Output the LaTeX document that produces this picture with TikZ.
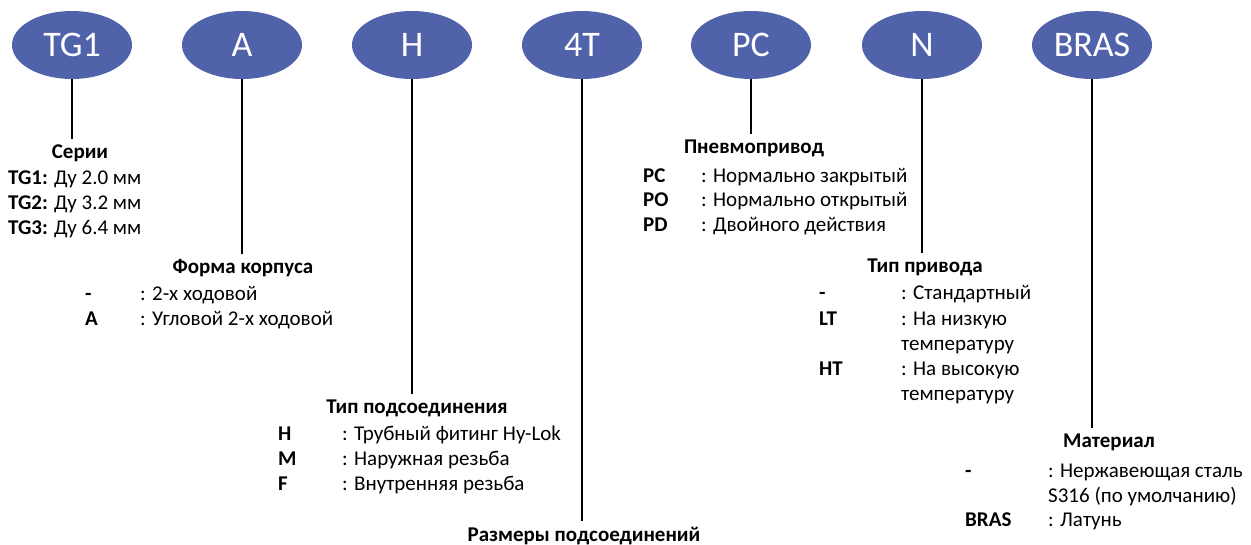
\documentclass[tikz,border=0pt]{standalone}
\usepackage{fontspec}
\setmainfont{Carlito}
\usetikzlibrary{shapes.geometric}
\definecolor{ovalblue}{RGB}{80,98,170}
\tikzset{
  oval/.style={ellipse, fill=ovalblue, draw=none, minimum width=120pt, minimum height=68pt, inner sep=0pt, text=white, font=\fontsize{36}{40}\selectfont},
  head/.style={anchor=base, inner sep=5pt, font=\fontsize{21}{25}\selectfont\bfseries},
  keyt/.style={anchor=base west, inner sep=0pt, font=\fontsize{21}{25}\selectfont\bfseries},
  desc/.style={anchor=base west, inner sep=0pt, font=\fontsize{21}{25}\selectfont},
  conn/.style={draw=black, line width=1.1pt}
}
\begin{document}
\begin{tikzpicture}[x=1pt,y=-1pt]
\useasboundingbox (0,0) rectangle (1251,544);
% ovals
\node[oval] (tg) at (72,45) {TG1};
\node[oval] (a) at (242,45) {A};
\node[oval] (h) at (412,45) {H};
\node[oval] (t4) at (582,45) {4T};
\node[oval] (pc) at (751,45) {PC};
\node[oval] (n) at (922,45) {N};
\node[oval] (bras) at (1092,45) {BRAS};
% headings
\node[head] (serii) at (80,158) {Серии};
\node[head] (forma) at (243,273) {Форма корпуса};
\node[head] (tippod) at (417,413) {Тип подсоединения};
\node[head] (razm) at (584,541) {Размеры подсоединений};
\node[head] (pnev) at (754,153) {Пневмопривод};
\node[head] (tippr) at (925,272) {Тип привода};
\node[head] (mat) at (1109,447) {Материал};
% connectors
\draw[conn] (tg.south) -- (tg.south |- serii.north);
\draw[conn] (a.south) -- (a.south |- forma.north);
\draw[conn] (h.south) -- (h.south |- tippod.north);
\draw[conn] (t4.south) -- (t4.south |- razm.north);
\draw[conn] (pc.south) -- (pc.south |- pnev.north);
\draw[conn] (n.south) -- (n.south |- tippr.north);
\draw[conn] (bras.south) -- (bras.south |- mat.north);
% block 1
\node[desc] (s1) at (8,184) {\textbf{TG1:} Ду 2.0 мм};
\node[desc] (s2) at (8,209) {\textbf{TG2:} Ду 3.2 мм};
\node[desc] (s3) at (8,234) {\textbf{TG3:} Ду 6.4 мм};
% block 2
\node[keyt] (f1k) at (85,300) {-};
\node[desc] (f1) at (140,300) {: 2-х ходовой};
\node[keyt] (f2k) at (85,325) {A};
\node[desc] (f2) at (140,325) {: Угловой 2-х ходовой};
% block 3
\node[keyt] (c1k) at (278,440) {H};
\node[desc] (c1) at (342,440) {: Трубный фитинг Hy-Lok};
\node[keyt] (c2k) at (278,465) {M};
\node[desc] (c2) at (342,465) {: Наружная резьба};
\node[keyt] (c3k) at (278,490) {F};
\node[desc] (c3) at (342,490) {: Внутренняя резьба};
% block 5
\node[keyt] (p1k) at (643,182) {PC};
\node[desc] (p1) at (701,182) {: Нормально закрытый};
\node[keyt] (p2k) at (643,206) {PO};
\node[desc] (p2) at (701,206) {: Нормально открытый};
\node[keyt] (p3k) at (643,231) {PD};
\node[desc] (p3) at (701,231) {: Двойного действия};
% block 6
\node[keyt] (d1k) at (819,299) {-};
\node[desc] (d1) at (901,299) {: Стандартный};
\node[keyt] (d2k) at (819,325) {LT};
\node[desc] (d2) at (901,325) {: На низкую};
\node[desc] (d2b) at (901,350) {температуру};
\node[keyt] (d3k) at (819,375) {HT};
\node[desc] (d3) at (901,375) {: На высокую};
\node[desc] (d3b) at (901,400) {температуру};
% block 7
\node[keyt] (m1k) at (965,477) {-};
\node[desc] (m1) at (1048,477) {: Нержавеющая сталь};
\node[desc] (m1b) at (1048,502) {S316 (по умолчанию)};
\node[keyt] (m2k) at (965,526) {BRAS};
\node[desc] (m2) at (1048,526) {: Латунь};
\end{tikzpicture}
\end{document}
